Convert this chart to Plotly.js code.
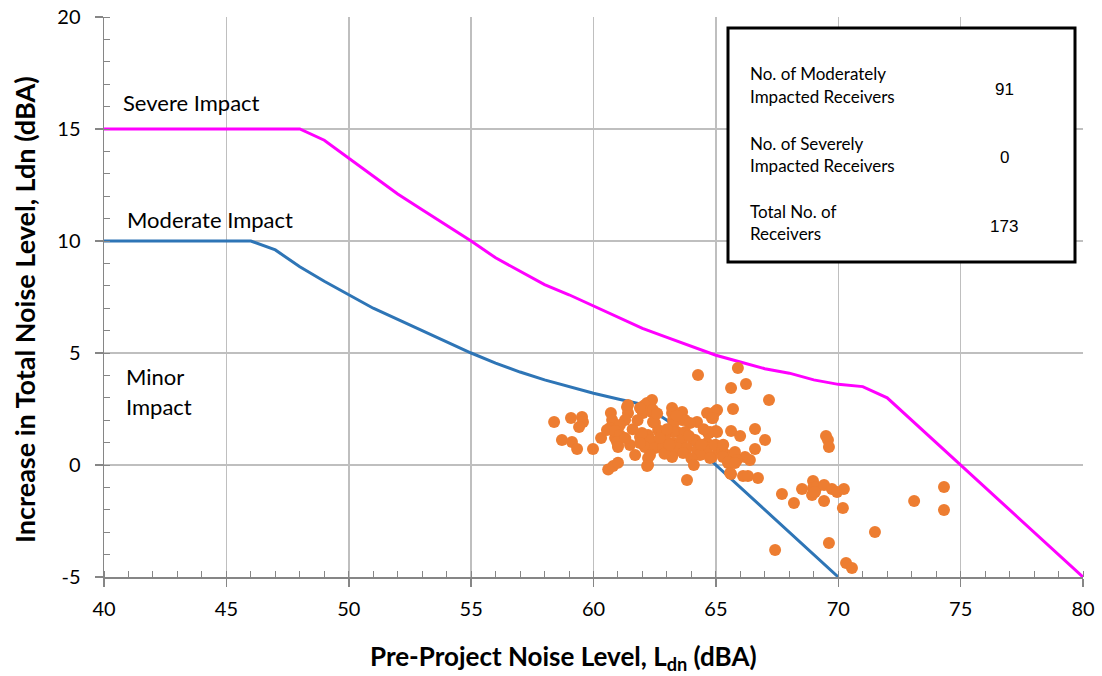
<!DOCTYPE html>
<html>
<head>
<meta charset="utf-8">
<script src="https://cdn.plot.ly/plotly-3.0.1.min.js"></script>
<style>html,body{margin:0;padding:0;background:#fff;}#chart{width:1102px;height:676px;}</style>
</head>
<body>
<div id="chart"></div>
<script>
// Impact criteria curves
const moderateX = [40, 46, 47, 48, 49, 50, 51, 52, 53, 54, 55, 56, 57, 58, 59, 60, 61, 62, 63, 70];
const moderateY = [10, 10, 9.6, 8.85, 8.2, 7.6, 7.0, 6.5, 6.0, 5.5, 5.0, 4.55, 4.15, 3.8, 3.5, 3.2, 2.95, 2.7, 2.0, -5];
const severeX = [40, 48, 49, 50, 51, 52, 53, 54, 55, 56, 57, 58, 59, 60, 61, 62, 63, 64, 65, 66, 67, 68, 69, 70, 71, 72, 80];
const severeY = [15, 15, 14.5, 13.7, 12.9, 12.1, 11.4, 10.7, 10.0, 9.25, 8.65, 8.05, 7.6, 7.1, 6.6, 6.1, 5.7, 5.3, 4.9, 4.6, 4.3, 4.1, 3.8, 3.6, 3.5, 3.0, -5];

// Receivers: pre-project Ldn and increase
const receiverX = [
64.27,58.39,59.08,59.53,59.57,59.41,58.71,59.12,59.33,59.98,60.31,60.60,60.80,61.00,60.71,60.76,60.67,60.55,61.37,61.41,
61.29,61.08,60.88,61.00,61.49,61.70,61.90,61.98,62.19,62.39,62.02,62.39,62.51,62.64,62.23,62.43,62.80,62.23,62.23,63.21,
63.62,63.25,63.74,64.23,63.41,63.25,63.53,63.74,64.15,63.21,63.82,64.64,65.05,64.84,64.76,65.05,64.64,64.47,64.84,65.09,
65.90,65.62,66.23,67.17,65.70,64.96,64.88,64.72,65.00,65.62,65.99,66.60,67.01,66.60,65.00,64.56,64.76,65.45,65.78,66.19,
66.39,65.50,65.86,65.62,66.11,66.31,66.72,69.50,69.58,69.62,67.70,68.19,68.52,68.97,68.97,68.93,69.13,69.42,69.42,69.74,
69.95,70.23,70.19,71.50,69.62,67.42,70.32,70.56,73.10,74.32,74.32,69.05,62.10,61.98,62.43,63.21,63.62,63.94,62.43,63.25,
63.25,63.74,62.31,62.92,63.62,64.07,64.68,62.10,62.51,62.84,63.45,63.82,64.23,64.64,64.96,65.25,62.31,63.21,63.66,64.35,
64.76,65.29,62.19,65.50,65.78,65.58,60.88,61.08,60.96,61.00,61.41,61.90,61.98,61.90,63.00,63.90,64.40,63.40,64.00,62.70,
61.60,61.80,62.90,64.50,65.30,63.10,64.10,61.30,62.60
];
const receiverY = [
4.02,1.92,2.10,2.14,1.92,1.70,1.12,1.03,0.71,0.71,1.21,-0.20,-0.05,0.10,2.32,2.01,1.65,1.56,2.59,2.32,
2.01,1.79,1.21,0.89,0.89,0.45,1.25,2.59,2.77,2.90,2.32,2.37,1.88,1.56,1.34,1.03,0.80,0.31,0.00,2.54,
2.37,2.01,2.01,1.92,1.47,0.98,0.98,0.58,1.12,0.45,-0.67,2.32,2.46,2.10,1.47,1.47,0.98,0.54,0.36,0.67,
4.33,3.44,3.62,2.90,2.50,2.37,2.10,1.43,1.52,1.52,1.29,1.61,1.12,0.71,0.89,0.80,0.36,0.45,0.58,0.36,
0.22,0.09,0.22,-0.40,-0.49,-0.49,-0.58,1.29,1.12,0.80,-1.29,-1.70,-1.07,-0.71,-1.03,-1.34,-0.98,-0.89,-1.61,-1.07,
-1.21,-1.07,-1.92,-2.99,-3.48,-3.79,-4.38,-4.60,-1.61,-0.98,-2.01,-1.21,2.68,2.46,2.46,2.32,2.01,1.88,1.92,1.79,
1.47,1.47,1.12,1.25,1.12,1.12,1.43,0.80,0.76,0.80,0.76,0.76,0.67,0.76,0.89,0.67,0.45,0.36,0.54,0.45,
0.31,0.36,-0.04,0.13,0.09,-0.36,1.52,1.34,1.03,0.80,2.68,2.54,1.43,0.98,1.60,1.30,0.90,2.20,0.30,1.20,
1.60,2.00,0.50,1.60,0.90,0.90,0.00,1.20,2.30
];

// Axis ticks
const xTickVals = [40, 45, 50, 55, 60, 65, 70, 75, 80];
const xTickText = ['40', '45', '50', '55', '60', '65', '70', '75', '80'];
const yTickVals = [-5, 0, 5, 10, 15, 20];
const yTickText = ['-5', '0', '5', '10', '15', '20'];

// Titles
const xTitle = '<b>Pre-Project Noise Level, L<sub>dn</sub> (dBA)</b>';
const yTitle = '<b>Increase in Total Noise Level, Ldn (dBA)</b>';

// Summary box
const boxLabels = [["No. of Moderately", "Impacted Receivers"], ["No. of Severely", "Impacted Receivers"], ["Total No. of", "Receivers"]];
const boxValues = ["91", "0", "173"];

const FONT = "Lato, 'DejaVu Sans', sans-serif";

const traces = [
  {x: severeX, y: severeY, type: 'scatter', mode: 'lines', line: {color: '#FF00FF', width: 3}, hoverinfo: 'skip'},
  {x: moderateX, y: moderateY, type: 'scatter', mode: 'lines', line: {color: '#2E75B6', width: 3}, hoverinfo: 'skip'},
  {x: receiverX, y: receiverY, type: 'scatter', mode: 'markers', marker: {color: '#ED7D31', size: 12, line: {width: 0}}}
];

// pixel helpers (plot area: left 104, top 17, width 979, height 560)
const px = v => (v - 104) / 979;
const py = v => 1 - (v - 17) / 560;

const annotations = [
  {x: 40.69, y: 16.2, xref: 'x', yref: 'y', text: 'Severe Impact', showarrow: false, xanchor: 'left', yanchor: 'middle', font: {family: FONT, size: 22, color: '#000'}},
  {x: 40.86, y: 10.97, xref: 'x', yref: 'y', text: 'Moderate Impact', showarrow: false, xanchor: 'left', yanchor: 'middle', font: {family: FONT, size: 22, color: '#000'}},
  {x: 40.82, y: 3.97, xref: 'x', yref: 'y', text: 'Minor', showarrow: false, xanchor: 'left', yanchor: 'middle', font: {family: FONT, size: 22, color: '#000'}},
  {x: 40.82, y: 2.63, xref: 'x', yref: 'y', text: 'Impact', showarrow: false, xanchor: 'left', yanchor: 'middle', font: {family: FONT, size: 22, color: '#000'}},
  {x: px(563), y: py(657), xref: 'paper', yref: 'paper', text: xTitle, showarrow: false, xanchor: 'center', yanchor: 'middle', font: {family: FONT, size: 26, color: '#000'}},
  {x: px(24), y: py(310), xref: 'paper', yref: 'paper', text: yTitle, textangle: -90, showarrow: false, xanchor: 'center', yanchor: 'middle', font: {family: FONT, size: 27, color: '#000'}}
];
const lineYs = [[74, 97], [143, 166], [211, 234]];
const valYs = [89, 157, 226];
boxLabels.forEach((pair, i) => {
  pair.forEach((t, j) => {
    annotations.push({x: px(748), y: py(lineYs[i][j]), xref: 'paper', yref: 'paper', text: t, showarrow: false,
      xanchor: 'left', yanchor: 'middle', font: {family: FONT, size: 17, color: '#000'}});
  });
  annotations.push({x: px(1004), y: py(valYs[i]), xref: 'paper', yref: 'paper', text: boxValues[i], showarrow: false,
    xanchor: 'center', yanchor: 'middle', font: {family: "'Liberation Sans', Arial, sans-serif", size: 17, color: '#000'}});
});

const layout = {
  width: 1102, height: 676,
  margin: {l: 104, r: 19, t: 17, b: 99},
  paper_bgcolor: '#fff', plot_bgcolor: '#fff',
  showlegend: false,
  font: {family: FONT, size: 19, color: '#000'},
  xaxis: {
    range: [40, 80], tickmode: 'array', tickvals: xTickVals, ticktext: xTickText,
    showgrid: true, gridcolor: '#BFBFBF', gridwidth: 1.5,
    zeroline: false, showline: true, linecolor: '#868686', linewidth: 1.5,
    ticks: 'outside', ticklen: 8, tickcolor: '#868686', tickwidth: 1.5, ticklabelstandoff: 5,
    minor: {dtick: 1, tick0: 40, ticks: 'inside', ticklen: 6, tickcolor: '#868686', tickwidth: 1, showgrid: false},
    tickfont: {family: FONT, size: 20, color: '#000'}
  },
  yaxis: {
    range: [-5, 20], tickmode: 'array', tickvals: yTickVals, ticktext: yTickText,
    showgrid: true, gridcolor: '#BFBFBF', gridwidth: 1.5,
    zeroline: false, showline: true, linecolor: '#868686', linewidth: 1.5,
    ticks: 'outside', ticklen: 8, tickcolor: '#868686', tickwidth: 1.5, ticklabelstandoff: 10,
    minor: {dtick: 1, tick0: -5, ticks: 'inside', ticklen: 6, tickcolor: '#868686', tickwidth: 1, showgrid: false},
    tickfont: {family: FONT, size: 20, color: '#000'}
  },
  shapes: [
    {type: 'rect', xref: 'paper', yref: 'paper', x0: px(728), x1: px(1075), y0: py(262), y1: py(28),
     line: {color: '#000', width: 3}, fillcolor: '#fff', layer: 'above'}
  ],
  annotations: annotations
};

Plotly.newPlot('chart', traces, layout, {displayModeBar: false, staticPlot: true});
</script>
</body>
</html>
